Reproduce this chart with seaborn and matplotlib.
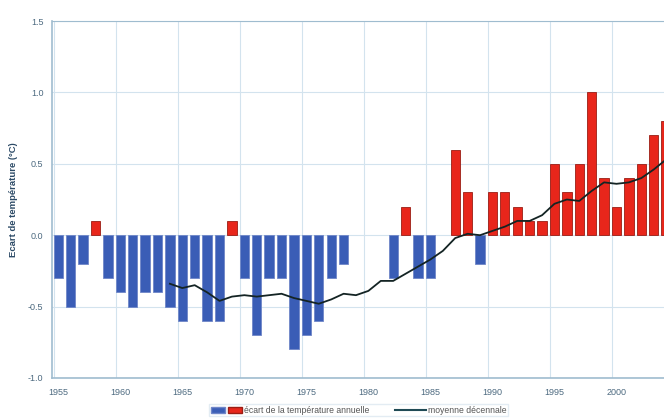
import numpy as np
import pandas as pd
import matplotlib
matplotlib.use("Agg")
import matplotlib.pyplot as plt
import seaborn as sns
from matplotlib.patches import Patch
from matplotlib.lines import Line2D
from matplotlib.legend_handler import HandlerTuple

# annual temperature anomaly (°C), 1955-2004
years = list(range(1955, 2005))
ecart = [-0.3, -0.5, -0.2, 0.1, -0.3, -0.4, -0.5, -0.4, -0.4, -0.5,
         -0.6, -0.3, -0.6, -0.6, 0.1, -0.3, -0.7, -0.3, -0.3, -0.8,
         -0.7, -0.6, -0.3, -0.2, 0.0, 0.0, 0.0, -0.3, 0.2, -0.3,
         -0.3, 0.0, 0.6, 0.3, -0.2, 0.3, 0.3, 0.2, 0.1, 0.1,
         0.5, 0.3, 0.5, 1.0, 0.4, 0.2, 0.4, 0.5, 0.7, 0.8]

# decennial mean
moy_years = list(range(1964, 2005))
moyenne = [-0.34, -0.37, -0.35, -0.40, -0.46, -0.43, -0.42, -0.43, -0.42, -0.41,
           -0.44, -0.46, -0.48, -0.45, -0.41, -0.42, -0.39, -0.32, -0.32, -0.27,
           -0.22, -0.17, -0.11, -0.02, 0.01, 0.0, 0.03, 0.06, 0.10, 0.10,
           0.14, 0.22, 0.25, 0.24, 0.31, 0.37, 0.36, 0.37, 0.40, 0.46, 0.53]

tick_years = [1955, 1960, 1965, 1970, 1975, 1980, 1985, 1990, 1995, 2000]

BLUE = "#3a5db6"
RED = "#e8261b"
GRID = "#d3e3ee"
SPINE = "#9fbccf"
TXT = "#4d6a80"

plt.rcParams["font.family"] = ["Liberation Sans", "DejaVu Sans"]

df = pd.DataFrame({"annee": years, "ecart": ecart})
df["signe"] = np.where(df["ecart"] >= 0, "pos", "neg")

fig = plt.figure(figsize=(6.64, 4.18), dpi=100)
ax = fig.add_axes([0.078, 0.0957, 0.922, 0.854])

sns.barplot(data=df, x="annee", y="ecart", hue="signe",
            palette={"pos": RED, "neg": BLUE}, native_scale=True, saturation=1,
            dodge=False, width=0.75, legend=False, ax=ax, zorder=2)
for p in ax.patches:
    if abs(p.get_height()) < 1e-9:
        p.set_visible(False)
        continue
    fc = p.get_facecolor()
    p.set_edgecolor("#9a1d14" if fc[0] > 0.5 else "#6f86c8")
    p.set_linewidth(0.6)

sns.lineplot(x=moy_years, y=moyenne, color="#142424", lw=1.3, ax=ax, zorder=3)

ax.set_xlim(1954.48, 2003.83)
ax.set_ylim(-1.0, 1.5)

# vertical grid at bar left edges, labels at bar centres
ax.set_xticks(tick_years)
ax.set_xticklabels([str(y) for y in tick_years])
ax.set_xticks([y - 0.375 for y in tick_years], minor=True)
ax.set_yticks([-1.0, -0.5, 0.0, 0.5, 1.0, 1.5])
ax.set_yticklabels(["-1.0", "-0.5", "0.0", "0.5", "1.0", "1.5"])
ax.grid(False)
ax.grid(True, which="minor", axis="x", color=GRID, lw=0.8, zorder=0)
ax.grid(True, which="major", axis="y", color=GRID, lw=0.8, zorder=0)
ax.set_axisbelow(True)
ax.tick_params(axis="both", which="both", length=0, labelsize=6.5,
               labelcolor=TXT)
ax.tick_params(axis="x", pad=7)
ax.tick_params(axis="y", pad=6)

for s in ["left", "bottom", "top"]:
    ax.spines[s].set_color(SPINE)
    ax.spines[s].set_linewidth(1.2)
ax.spines["top"].set_linewidth(0.8)
ax.spines["right"].set_visible(False)

ax.set_xlabel("")
ax.set_ylabel("Ecart de température (°C)", fontsize=6.8, fontweight="bold",
              color="#2c4a66", labelpad=11)
ax.yaxis.set_label_coords(-0.056, 0.5)

handles = [(Patch(facecolor=BLUE, edgecolor="#6f86c8"),
            Patch(facecolor=RED, edgecolor="#9a1d14")),
           Line2D([], [], color="#1f4a55", lw=1.5)]
labels = ["écart de la température annuelle", "moyenne décennale"]
leg = fig.legend(handles, labels, loc="center", bbox_to_anchor=(0.54, 0.019),
                 ncol=2, fontsize=6.2, frameon=True, fancybox=False,
                 edgecolor="#dde8f0", handlelength=3.6, handletextpad=0.2,
                 columnspacing=3.0, borderpad=0.2,
                 handler_map={tuple: HandlerTuple(ndivide=None, pad=0.4)})
for t in leg.get_texts():
    t.set_color("#555555")

fig.savefig("out.png", dpi=100)
